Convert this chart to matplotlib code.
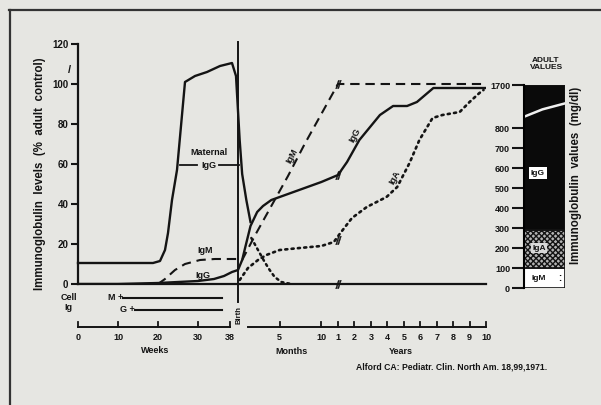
import numpy as np
import matplotlib.pyplot as plt

plt.rcParams['font.family'] = ['Liberation Sans', 'DejaVu Sans']
plt.rcParams['font.weight'] = 'bold'

INK = '#141414'
PAPER = '#e6e6e2'

# ---- values (% of adult control) ----
# maternal IgG: gestation weeks, then months after birth
mat_igg_weeks = [0, 18.75, 20.5, 21.75, 22.5, 23.5, 24.75, 26.75, 29.25, 32.25, 35.5, 38.5, 39.5]
mat_igg_weeks_pct = [10.5, 10.5, 11.5, 17, 25.5, 42, 57, 101, 104, 106, 109, 110.5, 104]
mat_igg_months = [0.2, 0.5, 1.0, 1.5]
mat_igg_months_pct = [72, 55, 42, 31]
mat_tail_months = [1.6, 2.4, 3.2, 3.8, 4.4, 5.2, 6.4]
mat_tail_pct = [23, 17, 11, 7, 3.5, 1, 0]

# IgG of the child
igg_weeks = [0, 10, 20, 30, 34, 36.5, 38.5]
igg_weeks_pct = [0, 0, 0.5, 1.5, 2.5, 4, 6]
igg_months = [0, 0.5, 0.85, 1.5, 2.3, 3, 4, 6, 8, 10, 12]
igg_months_pct = [7, 12, 18, 29, 36, 39, 42, 45, 48, 51, 54.5]
igg_years = [1.55, 2.3, 3.0, 3.55, 4.35, 5.2, 5.8, 6.8, 8, 10]
igg_years_pct = [61, 72, 79, 84.5, 89, 89, 91, 98, 98, 98]

# IgM
igm_weeks = [20, 21.75, 24.25, 26.75, 30.5, 34.25, 38.75, 40]
igm_weeks_pct = [0, 2.5, 7, 10, 12, 12.5, 12.5, 12.5]
igm_months = [0.5, 2, 4, 6, 8, 10, 12]
igm_months_pct = [12, 24, 39, 54, 70, 85, 100]
igm_years = [2, 4, 6, 8, 9.7]
igm_years_pct = [100, 100, 100, 100, 100]

# IgA
iga_months = [0.2, 1.2, 2.4, 3.4, 5, 7.4, 10, 11.5]
iga_months_pct = [2, 8, 12, 14.5, 17, 18, 19, 21]
iga_years = [1.1, 1.85, 2.75, 3.95, 4.6, 5.35, 5.95, 6.75, 7.35, 8.4, 9.0, 9.6, 9.85]
iga_years_pct = [25, 33, 38.5, 43.5, 48.5, 60.5, 72, 83, 84.5, 86, 91, 95.5, 97]

# cell surface Ig (weeks of gestation)
cell_igm_weeks = [11.25, 36]
cell_igg_weeks = [14.25, 36]

# adult values (mg/dl)
adult_classes = ['IgM', 'IgA', 'IgG']
adult_mgdl = [100, 190, 1410]

y_ticks = [0, 20, 40, 60, 80, 100, 120]
week_ticks = [0, 10, 20, 30, 38]
month_ticks = [5, 10]
year_ticks = [1, 2, 3, 4, 5, 6, 7, 8, 9, 10]
adult_ticks = [0, 100, 200, 300, 400, 500, 600, 700, 800, 1700]

# ---- common time axis: weeks since conception ----
WPY = 52.18


def weeks(w):
    return np.asarray(w, float)


def months(m):
    return 40 + np.asarray(m, float) * WPY / 12


def years(y):
    return 40 + np.asarray(y, float) * WPY


# piecewise scale: weeks / months / years get their own stretch
knot_t = np.array([-400, 0, 40, float(months(12)), float(years(10)), 4000])
slope_end = 37 / (9 * WPY)
knot_p = np.array([-400, 0, 40, 65, 102, 102 + (4000 - float(years(10))) * slope_end])


def fwd(t):
    return np.interp(t, knot_t, knot_p)


def inv(p):
    return np.interp(p, knot_p, knot_t)


# broken scale for adult bar (800 -> 1700 compressed)
def bfwd(v):
    v = np.asarray(v, float)
    return np.where(v <= 800, v, 800 + (v - 800) * 215 / 900)


def binv(s):
    s = np.asarray(s, float)
    return np.where(s <= 800, s, 800 + (s - 800) * 900 / 215)


fig = plt.figure(figsize=(6.01, 4.05), dpi=100, facecolor=PAPER)
W, H = 601, 405


def box(x0, y0, x1, y1):
    return [x0 / W, 1 - y1 / H, (x1 - x0) / W, (y1 - y0) / H]


# frame of the scan
fig.add_artist(plt.Line2D([9 / W, 1], [1 - 10 / H] * 2, color='#333', lw=1.6))
fig.add_artist(plt.Line2D([10 / W] * 2, [0, 1 - 10 / H], color='#333', lw=1.6))

ax = fig.add_axes(box(78, 44, 486, 284))
ax.set_facecolor('none')
ax.set_xscale('function', functions=(fwd, inv))
ax.set_xlim(0, float(years(10)))
ax.set_ylim(0, 120)
for s in ['top', 'right']:
    ax.spines[s].set_visible(False)
ax.spines['left'].set_linewidth(1.6)
ax.spines['bottom'].set_linewidth(1.6)
ax.spines['left'].set_color(INK)
ax.spines['bottom'].set_color(INK)
ax.set_xticks([])
ax.set_yticks(y_ticks)
ax.tick_params(axis='y', length=5, width=1.5, labelsize=7, pad=2, colors=INK)

lw = 1.7
mat_x = np.concatenate([weeks(mat_igg_weeks), months(mat_igg_months)])
mat_y = mat_igg_weeks_pct + mat_igg_months_pct
ax.plot(mat_x, mat_y, color=INK, lw=lw, clip_on=False)
ax.plot(months(mat_tail_months), mat_tail_pct, color=INK, lw=1.8, ls=(0, (0.8, 1.6)),
        dash_capstyle='round')

igg_x = np.concatenate([weeks(igg_weeks), months(igg_months), years(igg_years)])
igg_y = igg_weeks_pct + igg_months_pct + igg_years_pct
ax.plot(igg_x, igg_y, color=INK, lw=lw)

igm_x = np.concatenate([weeks(igm_weeks), months(igm_months), years(igm_years)])
igm_y = igm_weeks_pct + igm_months_pct + igm_years_pct
ax.plot(igm_x, igm_y, color=INK, lw=1.5, ls=(0, (4.5, 2.8)))

iga_x = np.concatenate([months(iga_months), years(iga_years)])
iga_y = iga_months_pct + iga_years_pct
ax.plot(iga_x, iga_y, color=INK, lw=1.9, ls=(0, (0.8, 1.6)), dash_capstyle='round')

# scale-change marks at 1 year
one = float(years(1))
for xs, ys in [(igm_x, igm_y), (igg_x, igg_y), (iga_x, iga_y)]:
    ax.plot([one], [np.interp(one, xs, ys)], marker=r'$/\!/$', ms=6, mew=0.3, color=INK)
ax.plot([one], [0], marker=r'$/\!/$', ms=6, mew=0.3, color=INK, clip_on=False)

# birth line
ax.plot([40, 40], [-9, 121], color=INK, lw=1.4, clip_on=False)
ax.text(40.4, -15.5, 'Birth', rotation=90, ha='center', va='center', fontsize=5.5, color=INK)
ax.text(weeks(-2.2), 107, '/', ha='center', va='center', fontsize=8, color=INK)

# curve labels
ax.text(32.8, 66, 'Maternal', ha='center', va='center', fontsize=6.5, color=INK)
ax.text(32.6, 59.5, 'IgG', ha='center', va='center', fontsize=6.5, color=INK)
ax.plot([25.5, 29.7], [59.5, 59.5], color=INK, lw=1.3)
ax.plot([35.2, 40.5], [59.5, 59.5], color=INK, lw=1.3)
ax.text(31.8, 17, 'IgM', ha='center', va='center', fontsize=6.5, color=INK)
ax.text(31.3, 4.5, 'IgG', ha='center', va='center', fontsize=6.5, color=INK)
ax.text(months(6.5), 64, 'IgM', rotation=62, ha='center', va='center', fontsize=6.5, color=INK)
ax.text(years(2.03), 74.5, 'IgG', rotation=62, ha='center', va='center', fontsize=6.5, color=INK)
ax.text(years(4.47), 53.5, 'IgA', rotation=62, ha='center', va='center', fontsize=6.5, color=INK)

# cell surface Ig rows
ax.text(weeks(-2.3), -6.5, 'Cell', ha='center', va='center', fontsize=6.5, color=INK)
ax.text(weeks(-2.3), -12, 'Ig', ha='center', va='center', fontsize=6.5, color=INK)
ax.text(weeks(cell_igm_weeks[0]), -7, 'M +', ha='right', va='center', fontsize=6.5, color=INK)
ax.plot(weeks(cell_igm_weeks), [-7, -7], color=INK, lw=1.5, clip_on=False)
ax.text(weeks(cell_igg_weeks[0]), -13, 'G +', ha='right', va='center', fontsize=6.5, color=INK)
ax.plot(weeks(cell_igg_weeks), [-13, -13], color=INK, lw=1.5, clip_on=False)

# time axis below
ya = -21.5
tk = 2.6
ax.plot(weeks([0, 38]), [ya, ya], color=INK, lw=1.4, clip_on=False)
for w in week_ticks:
    ax.plot([w, w], [ya, ya + tk], color=INK, lw=1.3, clip_on=False)
    ax.text(w, ya - 5, str(w), ha='center', va='center', fontsize=6.5, color=INK)
ax.plot([months(1.2), years(10)], [ya, ya], color=INK, lw=1.4, clip_on=False)
for m in month_ticks:
    ax.plot([months(m)] * 2, [ya, ya + tk], color=INK, lw=1.3, clip_on=False)
    ax.text(months(m), ya - 5, str(m), ha='center', va='center', fontsize=6.5, color=INK)
for yr in year_ticks:
    ax.plot([years(yr)] * 2, [ya, ya + tk], color=INK, lw=1.3, clip_on=False)
    ax.text(years(yr), ya - 5.3, str(yr), ha='center', va='center', fontsize=6.5, color=INK)
ax.text(19.3, ya - 11.8, 'Weeks', ha='center', va='center', fontsize=6.5, color=INK)
ax.text(months(6.4), ya - 12.5, 'Months', ha='center', va='center', fontsize=6.5, color=INK)
ax.text(years(4.85), ya - 12.5, 'Years', ha='center', va='center', fontsize=6.5, color=INK)

fig.text(40 / W, 1 - 174 / H, 'Immunoglobulin  levels  (%  adult  control)', rotation=90,
         ha='center', va='center', fontsize=8.3, color=INK)

# ---- adult value bar ----
bx = fig.add_axes(box(524, 85, 565, 288))
bx.set_facecolor('none')
bx.set_yscale('function', functions=(bfwd, binv))
bx.set_ylim(0, 1700)
bx.set_xlim(0, 1)
bx.set_xticks([])
bx.set_yticks(adult_ticks)
bx.tick_params(axis='y', length=9, width=1.5, labelsize=6.5, pad=1, colors=INK)
for s in ['top', 'right', 'bottom']:
    bx.spines[s].set_visible(False)
bx.spines['left'].set_linewidth(1.5)

bottoms = np.concatenate([[0], np.cumsum(adult_mgdl)[:-1]])
faces = ['white', '#b4b4b4', '#0a0a0a']
hatches = [None, 'xxxxxx', None]
for v, b, fc, hz in zip(adult_mgdl, bottoms, faces, hatches):
    bx.bar(0.5, v, bottom=b, width=1.0, color=fc, edgecolor=INK, lw=1.2, hatch=hz)
bx.plot([0, 0.45, 1], [1035, 1190, 1315], color='#f0f0f0', lw=1.8)

bx.text(0.34, 575, 'IgG', ha='center', va='center', fontsize=6, color=INK,
        bbox=dict(boxstyle='square,pad=0.25', fc='white', ec='none'))
bx.text(0.36, 200, 'IgA', ha='center', va='center', fontsize=6, color=INK,
        bbox=dict(boxstyle='square,pad=0.15', fc='#d8d8d8', ec='none'))
bx.text(0.36, 50, 'IgM', ha='center', va='center', fontsize=6, color=INK)
bx.text(0.86, 50, ':', ha='center', va='center', fontsize=7, color=INK)

fig.text(546 / W, 1 - 64 / H, 'ADULT\nVALUES', ha='center', va='center', fontsize=6,
         linespacing=1.0, color=INK)
fig.text(576 / W, 1 - 175 / H, 'Immunoglobulin  values  (mg/dl)', rotation=90,
         ha='center', va='center', fontsize=8.3, color=INK)

fig.text(452 / W, 1 - 367 / H, 'Alford CA: Pediatr. Clin. North Am. 18,99,1971.',
         ha='center', va='center', fontsize=6.2, color=INK)

fig.savefig('out.png', dpi=100, facecolor=PAPER)
